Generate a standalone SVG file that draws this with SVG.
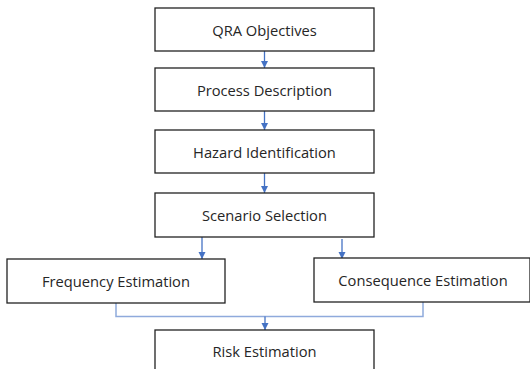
<svg xmlns="http://www.w3.org/2000/svg" width="530" height="369" viewBox="0 0 530 369">
<style>
.box{fill:#fff;stroke:#222;stroke-width:1.3}
.t{font-family:"Open Sans","Noto Sans",sans-serif;font-size:14.7px;fill:#262626;text-anchor:middle;dominant-baseline:central}
.a{stroke:#4472C4;stroke-width:1.3;fill:none}
.m{stroke:#8FAADC;stroke-width:1.5;fill:none}
</style>
<defs>
<marker id="ah" markerWidth="8" markerHeight="8" refX="7" refY="4" orient="auto" markerUnits="userSpaceOnUse">
<path d="M0,0.5 L7,4 L0,7.5 Z" fill="#4472C4"/>
</marker>
</defs>
<g id="connectors">
<line class="a" x1="264.5" y1="51" x2="264.5" y2="68" marker-end="url(#ah)"/>
<line class="a" x1="264.5" y1="111" x2="264.5" y2="130" marker-end="url(#ah)"/>
<line class="a" x1="264.5" y1="173" x2="264.5" y2="193" marker-end="url(#ah)"/>
<line class="a" x1="202" y1="237" x2="202" y2="259" marker-end="url(#ah)"/>
<line class="a" x1="342" y1="239" x2="342" y2="259" marker-end="url(#ah)"/>
<polyline class="m" points="116,303 116,316.5 423,316.5 423,302"/>
<line class="a" x1="265" y1="316.5" x2="265" y2="330" marker-end="url(#ah)"/>
</g>
<g id="n1"><rect class="box" x="155" y="8" width="219" height="43"/><text class="t" x="264.5" y="30">QRA Objectives</text></g>
<g id="n2"><rect class="box" x="155" y="68" width="219" height="43"/><text class="t" x="264.5" y="90">Process Description</text></g>
<g id="n3"><rect class="box" x="155" y="130" width="219" height="43"/><text class="t" x="264.5" y="152">Hazard Identification</text></g>
<g id="n4"><rect class="box" x="155" y="193" width="219" height="44"/><text class="t" x="264.5" y="215">Scenario Selection</text></g>
<g id="n5"><rect class="box" x="7" y="259" width="218" height="44"/><text class="t" x="116" y="281">Frequency Estimation</text></g>
<g id="n6"><rect class="box" x="314" y="258" width="216" height="44"/><text class="t" x="423" y="280">Consequence Estimation</text></g>
<g id="n7"><rect class="box" x="155" y="330" width="219" height="44"/><text class="t" x="264.5" y="351">Risk Estimation</text></g>
</svg>
